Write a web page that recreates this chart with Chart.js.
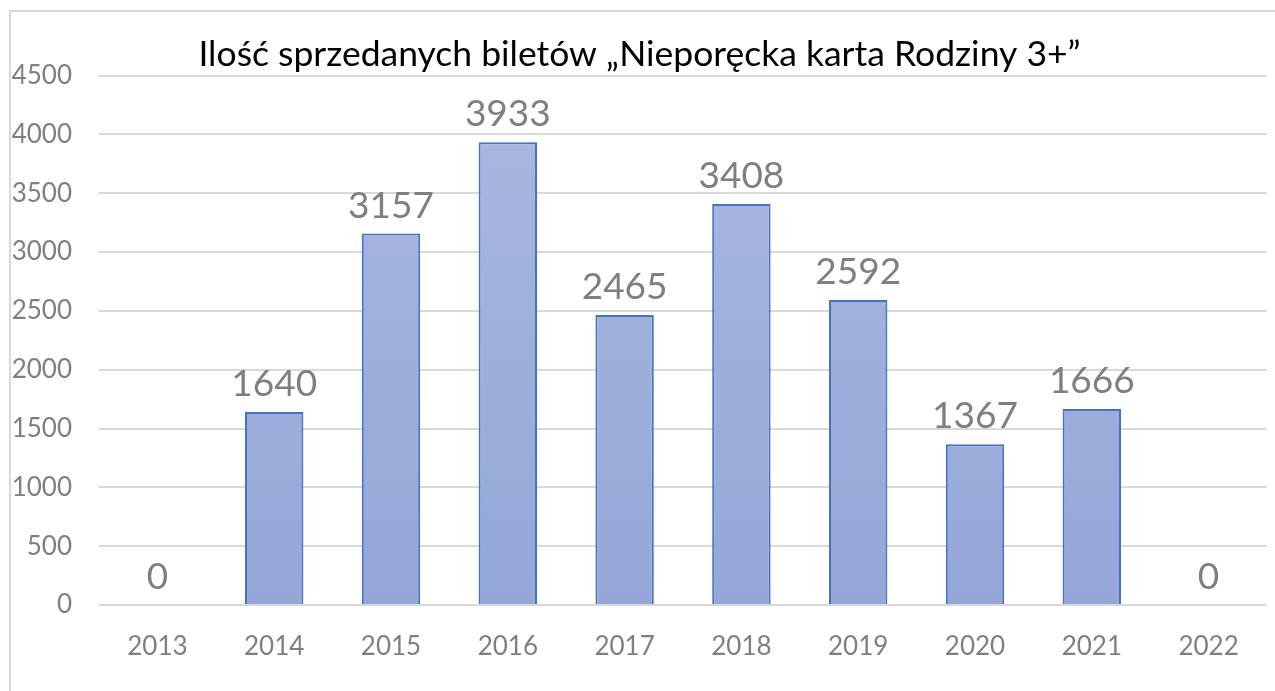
<!DOCTYPE html>
<html>
<head>
<meta charset="utf-8">
<script src="https://cdn.jsdelivr.net/npm/chart.js@4.4.0/dist/chart.umd.min.js"></script>
<style>
  html, body { margin: 0; padding: 0; background: #fff; }
  #wrap { width: 1275px; height: 691px; position: relative; }
</style>
</head>
<body>
<div id="wrap"><canvas id="myChart" width="1275" height="691"></canvas></div>
<script>
const years = ["2013", "2014", "2015", "2016", "2017", "2018", "2019", "2020", "2021", "2022"];
const tickets = [0, 1640, 3157, 3933, 2465, 3408, 2592, 1367, 1666, 0];
const titleText = "Ilość sprzedanych biletów „Nieporęcka karta Rodziny 3+”";

const fontName = "Lato, 'Open Sans', sans-serif";

// light frame like the office chart border
const framePlugin = {
    id: "frame",
    beforeDraw(chart) {
        const c = chart.ctx;
        c.save();
        c.strokeStyle = "#d9d9d9";
        c.lineWidth = 2;
        c.beginPath();
        c.moveTo(10, chart.height);
        c.lineTo(10, 11);
        c.lineTo(chart.width, 11);
        c.stroke();
        c.restore();
    },
};

// values written above each bar
const valuePlugin = {
    id: "values",
    afterDatasetsDraw(chart) {
        const c = chart.ctx;
        const meta = chart.getDatasetMeta(0);
        c.save();
        c.font = "37px " + fontName;
        c.fillStyle = "#7f7f7f";
        c.textAlign = "center";
        c.textBaseline = "alphabetic";
        meta.data.forEach((bar, i) => {
            c.fillText(String(tickets[i]), bar.x, bar.y - 16);
        });
        c.restore();
    },
};

function barFill(context) {
    const area = context.chart.chartArea;
    if (!area) return "#a0b0dc";
    const g = context.chart.ctx.createLinearGradient(0, area.top, 0, area.bottom);
    g.addColorStop(0, "#aab8e2");
    g.addColorStop(1, "#94a7d7");
    return g;
}

function draw() {
    const ctx = document.getElementById("myChart").getContext("2d");
    new Chart(ctx, {
        type: "bar",
        data: {
            labels: years,
            datasets: [{
                data: tickets,
                backgroundColor: barFill,
                borderColor: "#4472c4",
                borderWidth: 2,
                barPercentage: 0.5,
                categoryPercentage: 1.0,
            }],
        },
        options: {
            responsive: false,
            animation: false,
            layout: {
                padding: { top: 12, right: 8, bottom: 13, left: 12 },
            },
            plugins: {
                legend: { display: false },
                tooltip: { enabled: false },
                title: {
                    display: true,
                    text: titleText,
                    color: "#000",
                    font: { family: fontName, size: 35.5, weight: "normal" },
                    padding: { top: 21, bottom: 0 },
                },
            },
            scales: {
                x: {
                    grid: { display: false, drawTicks: false },
                    border: { display: false },
                    ticks: {
                        color: "#7f7f7f",
                        padding: 26,
                        font: { family: fontName, size: 26 },
                        maxRotation: 0,
                    },
                    afterFit: (scale) => { scale.height = 73; },
                },
                y: {
                    min: 0,
                    max: 4500,
                    ticks: {
                        stepSize: 500,
                        color: "#7f7f7f",
                        padding: 27,
                        font: { family: fontName, size: 26 },
                        callback: (v) => String(v),
                    },
                    grid: { color: "#d9d9d9", lineWidth: 2, drawTicks: false },
                    border: { display: false },
                    afterFit: (scale) => { scale.width = 87; },
                },
            },
        },
        plugins: [framePlugin, valuePlugin],
    });
}

if (document.fonts && document.fonts.load) {
    document.fonts.load("26px Lato").then(draw, draw);
} else {
    draw();
}
</script>
</body>
</html>
